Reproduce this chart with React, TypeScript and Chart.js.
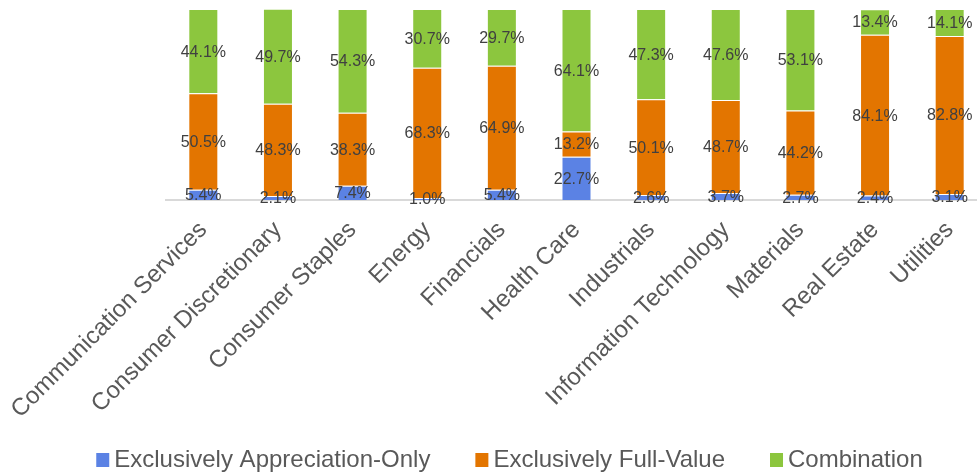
import React, { useEffect, useRef } from "react";
import { Chart, registerables } from "chart.js";

Chart.register(...registerables);

const categories = [
  "Communication Services",
  "Consumer Discretionary",
  "Consumer Staples",
  "Energy",
  "Financials",
  "Health Care",
  "Industrials",
  "Information Technology",
  "Materials",
  "Real Estate",
  "Utilities",
];

const appreciationOnly = [5.4, 2.1, 7.4, 1.0, 5.4, 22.7, 2.6, 3.7, 2.7, 2.4, 3.1];
const fullValue = [50.5, 48.3, 38.3, 68.3, 64.9, 13.2, 50.1, 48.7, 44.2, 84.1, 82.8];
const combination = [44.1, 49.7, 54.3, 30.7, 29.7, 64.1, 47.3, 47.6, 53.1, 13.4, 14.1];

const seriesNames = ["Exclusively Appreciation-Only", "Exclusively Full-Value", "Combination"];
const seriesColors = ["#5B82E4", "#E37500", "#8CC63E"];

const FONT = '"Liberation Sans", Arial, sans-serif';
const CANVAS_W = 1019;
const CANVAS_H = 475;

const dataLabelPlugin = {
  id: "dataLabels",
  afterDatasetsDraw(chart: any) {
    const ctx = chart.ctx;
    ctx.save();
    ctx.font = `16px ${FONT}`;
    ctx.fillStyle = "#404040";
    ctx.textAlign = "center";
    ctx.textBaseline = "middle";
    chart.data.datasets.forEach((ds: any, di: number) => {
      const meta = chart.getDatasetMeta(di);
      meta.data.forEach((el: any, i: number) => {
        const v = ds.data[i];
        const cy = (el.y + el.base) / 2;
        ctx.fillText(`${v.toFixed(1)}%`, el.x, cy + 1);
      });
    });
    ctx.restore();
  },
};

const legendPlugin = {
  id: "customLegend",
  afterDraw(chart: any) {
    const ctx = chart.ctx;
    ctx.save();
    ctx.font = `24px ${FONT}`;
    const box = 13;
    const gap = 5;
    const spacing = 45;
    const widths = seriesNames.map((n) => ctx.measureText(n).width);
    const total =
      widths.reduce((a, w) => a + box + gap + w, 0) + spacing * (seriesNames.length - 1);
    let x = chart.width / 2 - total / 2;
    const baseline = 467;
    ctx.textBaseline = "alphabetic";
    ctx.textAlign = "left";
    seriesNames.forEach((n, i) => {
      ctx.fillStyle = seriesColors[i];
      ctx.fillRect(x, baseline - 14, box, 14);
      ctx.fillStyle = "#595959";
      ctx.fillText(n, x + box + gap, baseline);
      x += box + gap + widths[i] + spacing;
    });
    ctx.restore();
  },
};

export default function App() {
  const ref = useRef<HTMLCanvasElement>(null);

  useEffect(() => {
    if (!ref.current) return;
    const values = [appreciationOnly, fullValue, combination];
    const chart = new Chart(ref.current, {
      type: "bar",
      data: {
        labels: categories,
        datasets: values.map((d, i) => ({
          label: seriesNames[i],
          data: d,
          backgroundColor: seriesColors[i],
          borderColor: "rgba(255,255,255,0.45)",
          borderWidth: 1,
          barPercentage: 0.402,
          categoryPercentage: 1,
        })),
      },
      options: {
        responsive: false,
        animation: false,
        devicePixelRatio: 1,
        layout: { padding: { left: 166, right: 32, top: 9, bottom: 0 } },
        plugins: {
          legend: { display: false },
          tooltip: { enabled: false },
        },
        scales: {
          x: {
            stacked: true,
            grid: { display: false },
            border: { display: true, color: "#d9d9d9", width: 2 },
            ticks: {
              autoSkip: false,
              minRotation: 45,
              maxRotation: 45,
              padding: 8,
              color: "#595959",
              font: { family: FONT, size: 24 },
            },
            afterFit(scale: any) {
              scale.paddingLeft = 0;
              scale.paddingRight = 0;
              scale.height = CANVAS_H - 200;
            },
          },
          y: {
            stacked: true,
            display: false,
            min: 0,
            max: 100,
          },
        },
      },
      plugins: [dataLabelPlugin, legendPlugin],
    });
    return () => chart.destroy();
  }, []);

  return (
    <div
      style={{
        position: "fixed",
        left: 0,
        top: 0,
        width: 977,
        height: 475,
        overflow: "hidden",
        background: "#ffffff",
      }}
    >
      <canvas ref={ref} width={CANVAS_W} height={CANVAS_H} style={{ display: "block" }} />
    </div>
  );
}
